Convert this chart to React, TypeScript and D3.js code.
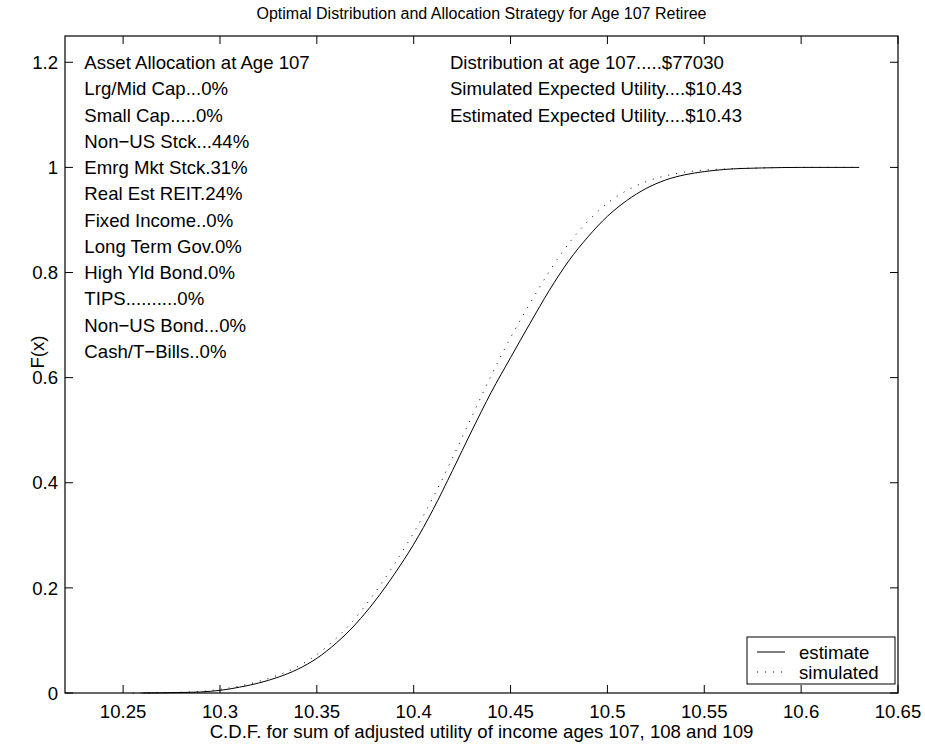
import * as d3 from "d3";

// chart values
const estX = [10.26, 10.27, 10.28, 10.29, 10.3, 10.31, 10.32, 10.33, 10.34, 10.35, 10.36, 10.37, 10.38, 10.39, 10.4, 10.41, 10.42, 10.43, 10.44, 10.45, 10.46, 10.47, 10.48, 10.49, 10.5, 10.51, 10.52, 10.53, 10.54, 10.55, 10.56, 10.57, 10.58, 10.6, 10.63];
const estF = [0, 0.0003, 0.001, 0.002, 0.005, 0.011, 0.019, 0.03, 0.045, 0.066, 0.095, 0.131, 0.175, 0.226, 0.283, 0.349, 0.423, 0.499, 0.572, 0.638, 0.703, 0.766, 0.822, 0.868, 0.907, 0.937, 0.96, 0.976, 0.986, 0.992, 0.996, 0.998, 0.999, 1.0, 1.0];

const simX = [10.255, 10.27, 10.28, 10.29, 10.3, 10.31, 10.32, 10.33, 10.34, 10.35, 10.36, 10.37, 10.38, 10.39, 10.4, 10.41, 10.42, 10.43, 10.44, 10.45, 10.46, 10.47, 10.48, 10.49, 10.5, 10.51, 10.52, 10.53, 10.54, 10.55, 10.56, 10.58, 10.6, 10.63];
const simF = [0, 0.0005, 0.0015, 0.003, 0.007, 0.013, 0.022, 0.034, 0.05, 0.073, 0.104, 0.143, 0.191, 0.245, 0.305, 0.372, 0.447, 0.526, 0.604, 0.676, 0.741, 0.802, 0.855, 0.898, 0.932, 0.956, 0.973, 0.984, 0.991, 0.995, 0.997, 0.999, 1.0, 1.0];

const xTicks = [10.25, 10.3, 10.35, 10.4, 10.45, 10.5, 10.55, 10.6, 10.65];
const yTicks = [0, 0.2, 0.4, 0.6, 0.8, 1, 1.2];

const leftNotes = [
  "Asset Allocation at Age 107",
  "Lrg/Mid Cap...0%",
  "Small Cap.....0%",
  "Non\u2212US Stck...44%",
  "Emrg Mkt Stck.31%",
  "Real Est REIT.24%",
  "Fixed Income..0%",
  "Long Term Gov.0%",
  "High Yld Bond.0%",
  "TIPS..........0%",
  "Non\u2212US Bond...0%",
  "Cash/T\u2212Bills..0%",
];
const rightNotes = [
  "Distribution at age 107.....$77030",
  "Simulated Expected Utility....$10.43",
  "Estimated Expected Utility....$10.43",
];

export default function App() {
  const width = 925;
  const height = 744;
  const margin = { top: 36, right: 27, bottom: 51, left: 65 };
  const font = "'Liberation Sans', Arial, sans-serif";
  const fs = 18.6;

  const x = d3.scaleLinear().domain([10.22, 10.65]).range([margin.left, width - margin.right]);
  const y = d3.scaleLinear().domain([0, 1.25]).range([height - margin.bottom, margin.top]);

  const line = d3
    .line<[number, number]>()
    .x(d => x(d[0]))
    .y(d => y(d[1]))
    .curve(d3.curveMonotoneX);

  const estPath = line(estX.map((v, i) => [v, estF[i]]) as [number, number][]) || "";
  const simPath = line(simX.map((v, i) => [v, simF[i]]) as [number, number][]) || "";

  const x0 = margin.left;
  const x1 = width - margin.right;
  const y0 = height - margin.bottom;
  const y1 = margin.top;
  const tick = 8;

  // legend box
  const lg = { x: 747, y: 637, w: 148, h: 47 };

  return (
    <svg
      width={width}
      height={height}
      style={{ position: "absolute", left: 0, top: 0, background: "#fff" }}
      fontFamily={font}
    >
      {/* title */}
      <text x={(x0 + x1) / 2} y={19} textAnchor="middle" fontSize={16} fill="#000">
        Optimal Distribution and Allocation Strategy for Age 107 Retiree
      </text>

      {/* ticks */}
      {xTicks.map(t => (
        <g key={"x" + t}>
          <line x1={x(t)} x2={x(t)} y1={y0} y2={y0 - tick} stroke="#000" />
          <line x1={x(t)} x2={x(t)} y1={y1} y2={y1 + tick} stroke="#000" />
          <text x={x(t)} y={y0 + 25} textAnchor="middle" fontSize={fs} fill="#000">
            {t}
          </text>
        </g>
      ))}
      {yTicks.map(t => (
        <g key={"y" + t}>
          <line x1={x0} x2={x0 + tick} y1={y(t)} y2={y(t)} stroke="#000" />
          <line x1={x1} x2={x1 - tick} y1={y(t)} y2={y(t)} stroke="#000" />
          <text x={x0 - 7} y={y(t)} dy="0.36em" textAnchor="end" fontSize={fs} fill="#000">
            {t}
          </text>
        </g>
      ))}

      {/* axis labels */}
      <text x={(x0 + x1) / 2} y={738} textAnchor="middle" fontSize={fs} fill="#000">
        C.D.F. for sum of adjusted utility of income ages 107, 108 and 109
      </text>
      <text
        transform={`translate(44,352) rotate(-90)`}
        textAnchor="middle"
        fontSize={fs}
        fill="#000"
      >
        F(x)
      </text>

      {/* curves */}
      <path d={simPath} fill="none" stroke="#000" strokeWidth={1} strokeDasharray="1,7" />
      <path d={estPath} fill="none" stroke="#000" strokeWidth={1} />

      {/* notes */}
      {leftNotes.map((s, i) => (
        <text key={s} x={x(10.23)} y={y(1.2 - 0.05 * i)} dy="0.36em" fontSize={fs} fill="#000" style={{ whiteSpace: "pre" }}>
          {s}
        </text>
      ))}
      {rightNotes.map((s, i) => (
        <text key={s} x={x(10.4187)} y={y(1.2 - 0.05 * i)} dy="0.36em" fontSize={fs} fill="#000">
          {s}
        </text>
      ))}

      {/* legend */}
      <rect x={lg.x} y={lg.y} width={lg.w} height={lg.h} fill="#fff" stroke="#000" />
      <line x1={757} x2={785} y1={652} y2={652} stroke="#000" />
      <text x={799} y={652} dy="0.36em" fontSize={fs} fill="#000">estimate</text>
      <line x1={757} x2={785} y1={672} y2={672} stroke="#000" strokeDasharray="1,7" />
      <text x={799} y={672} dy="0.36em" fontSize={fs} fill="#000">simulated</text>

      {/* frame */}
      <rect x={x0} y={y1} width={x1 - x0} height={y0 - y1} fill="none" stroke="#000" strokeWidth={1.2} />
    </svg>
  );
}
